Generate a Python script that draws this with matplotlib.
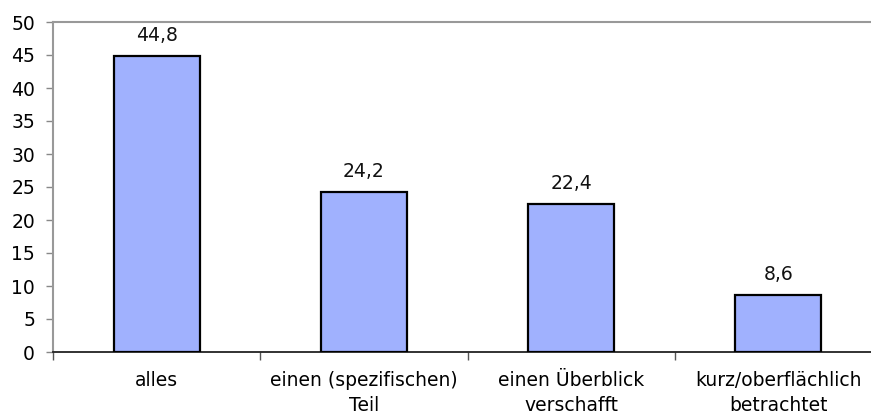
import matplotlib
matplotlib.use("Agg")
import matplotlib.pyplot as plt
from matplotlib.ticker import FixedLocator, NullFormatter

categories = ["alles", "einen (spezifischen)\nTeil", "einen Überblick\nverschafft",
              "kurz/oberflächlich\nbetrachtet"]
values = [44.8, 24.2, 22.4, 8.6]
value_labels = ["44,8", "24,2", "22,4", "8,6"]
yticks = [0, 5, 10, 15, 20, 25, 30, 35, 40, 45, 50]

W, H = 871, 418
fig = plt.figure(figsize=(W / 100, H / 100), dpi=100)
left, right, top, bottom = 53, 882, 22, 352
ax = fig.add_axes([left / W, (H - bottom) / H, (right - left) / W, (bottom - top) / H])

fs = 13.5
x = list(range(len(categories)))
ax.bar(x, values, width=0.415, color="#A0B1FE", edgecolor="black", linewidth=1.6, zorder=3)
for xi, v, lab in zip(x, values, value_labels):
    ax.annotate(lab, (xi, v), xytext=(0, 8), textcoords="offset points",
                ha="center", va="bottom", fontsize=fs, color="#111111")

ax.set_xlim(-0.5, len(categories) - 0.5)
ax.set_ylim(0, 50)
ax.set_yticks(yticks)
ax.set_yticklabels([str(t) for t in yticks], fontsize=fs)

# category boundaries carry the tick marks; labels sit between them
ax.xaxis.set_major_locator(FixedLocator([i - 0.5 for i in range(len(categories) + 1)]))
ax.xaxis.set_major_formatter(NullFormatter())
ax.xaxis.set_minor_locator(FixedLocator(x))
ax.set_xticklabels(categories, minor=True, fontsize=fs, linespacing=1.35)
ax.tick_params(axis="x", which="minor", length=0, pad=14)
ax.tick_params(axis="x", which="major", length=6, width=1, color="#555555")
ax.tick_params(axis="y", length=5, width=1, color="#888888", pad=8)

for side in ("top", "left", "right"):
    ax.spines[side].set_color("#999999")
    ax.spines[side].set_linewidth(1.5)
ax.spines["bottom"].set_color("#222222")
ax.spines["bottom"].set_linewidth(1.3)

fig.savefig("out.png", dpi=100)
